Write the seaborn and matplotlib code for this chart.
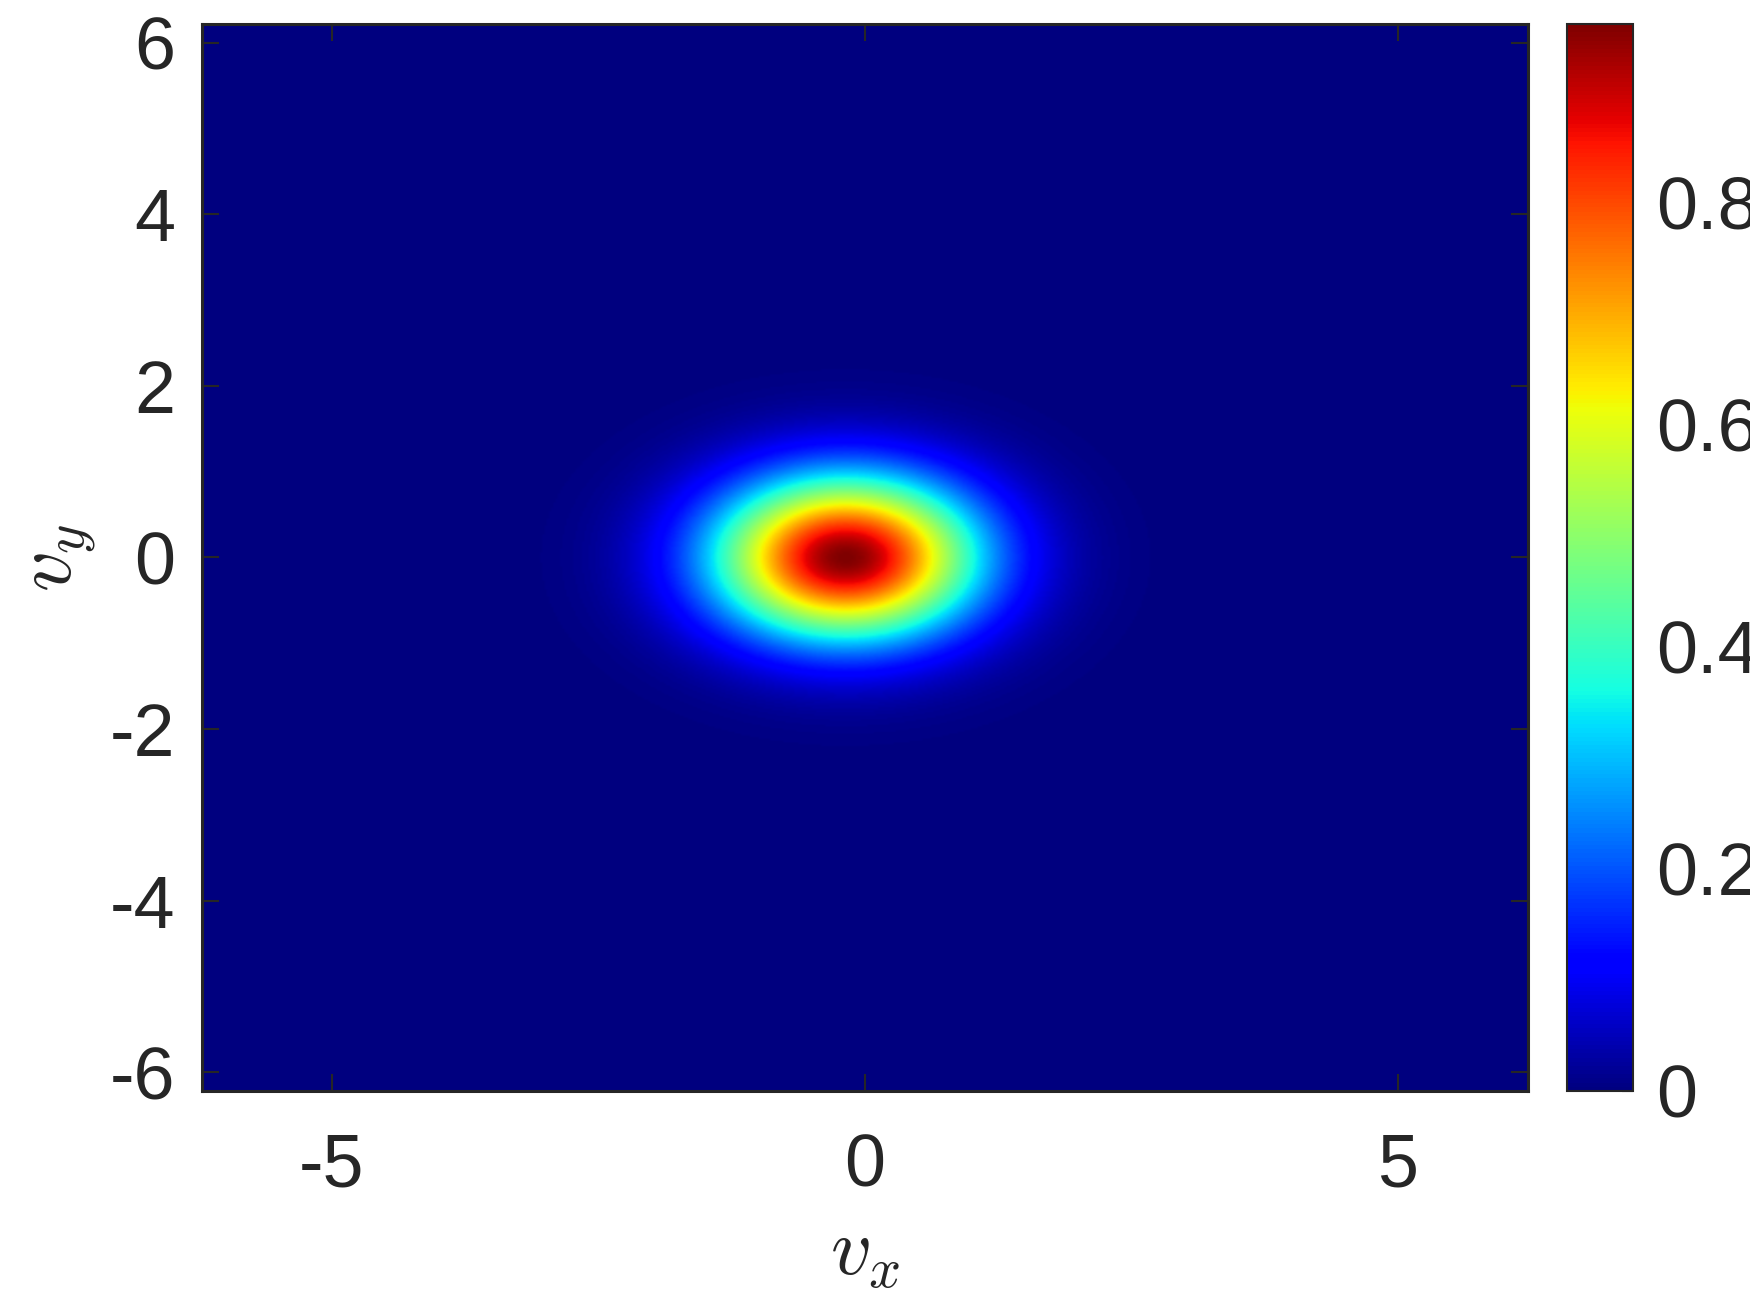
import numpy as np
import matplotlib
matplotlib.use("Agg")
import matplotlib.pyplot as plt
from matplotlib.ticker import FuncFormatter
import seaborn as sns

# ---------------------------- values ---------------------------- #
v_limit = 6.22                 # both axes run from -v_limit to v_limit
peak_value = 0.96              # top of the colour scale
centre_vx = -0.18
centre_vy = 0.0
width_vx = 0.86                # spread of the blob along v_x
width_vy = 0.66                # spread of the blob along v_y
x_ticks = [-5, 0, 5]
y_ticks = [-6, -4, -2, 0, 2, 4, 6]
cbar_ticks = [0, 0.2, 0.4, 0.6, 0.8]
n_grid = 600

# ---------------------------- style ---------------------------- #
sns.set_theme(style="ticks")
plt.rcParams['font.family'] = ['Liberation Sans', 'DejaVu Sans']
plt.rcParams['mathtext.fontset'] = 'cm'
plt.rcParams['axes.unicode_minus'] = False
gris = "#262626"

# ---------------------------- field ---------------------------- #
vx = np.linspace(-v_limit, v_limit, n_grid)
vy = np.linspace(-v_limit, v_limit, n_grid)
VX, VY = np.meshgrid(vx, vy)
f = peak_value * np.exp(-((VX - centre_vx) ** 2) / (2 * width_vx ** 2)
                        - ((VY - centre_vy) ** 2) / (2 * width_vy ** 2))

# ---------------------------- plot ---------------------------- #
fig = plt.figure(figsize=(17.5, 13.13), dpi=100)
ax = fig.add_axes([0.1154, 0.1691, 0.7577, 0.8126])
cax = fig.add_axes([0.8954, 0.1691, 0.0377, 0.8126])

im = ax.imshow(f, cmap='jet', origin='lower', aspect='auto',
               extent=[-v_limit, v_limit, -v_limit, v_limit],
               vmin=0, vmax=peak_value, interpolation='bilinear')
ax.set_xlim(-v_limit, v_limit)
ax.set_ylim(-v_limit, v_limit)
ax.set_xticks(x_ticks)
ax.set_yticks(y_ticks)
ax.tick_params(direction='in', length=12, width=1.5, color=gris, labelcolor=gris,
               labelsize=53, top=True, right=True)
ax.tick_params(axis='x', pad=30)
ax.tick_params(axis='y', pad=19)
for sp in ax.spines.values():
    sp.set_color(gris)
    sp.set_linewidth(2.2)
ax.set_xlabel(r'$v_x$', fontsize=58, color=gris, labelpad=10)
ax.set_ylabel(r'$v_y$', fontsize=58, color=gris, labelpad=9)

cb = fig.colorbar(im, cax=cax, ticks=cbar_ticks)
cb.ax.yaxis.set_major_formatter(FuncFormatter(lambda v, p: f'{v:g}'))
cb.ax.tick_params(direction='in', length=8, width=1.5, color=gris, labelcolor=gris,
                  labelsize=53, pad=17)
cb.outline.set_edgecolor(gris)
cb.outline.set_linewidth(1.5)

fig.savefig('out.png', dpi=100)
